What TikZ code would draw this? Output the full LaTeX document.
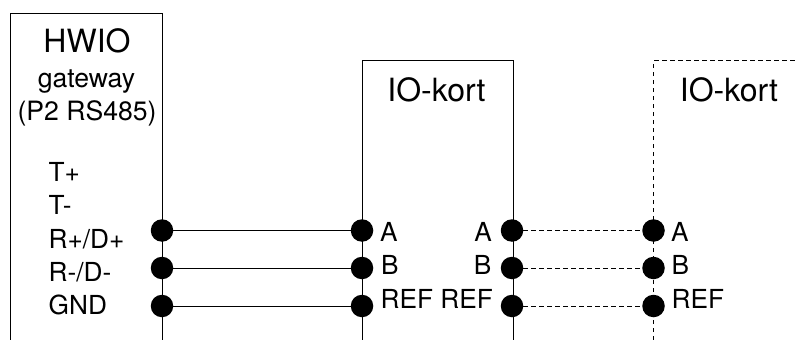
\documentclass[tikz,border=0pt]{standalone}
\usepackage{fontspec}
\setmainfont{TeX Gyre Heros}
\tikzset{
  x=1pt,y=-1pt,
  wire/.style={draw=black,line width=1pt},
  dwire/.style={draw=black,line width=1pt,dash pattern=on 4.5pt off 3.5pt},
  dot/.style={circle,fill=black,draw=none,minimum size=22.5pt,inner sep=0pt},
  big/.style={font=\fontsize{32}{32}\selectfont,inner sep=0pt},
  mid/.style={font=\fontsize{26.6}{26.6}\selectfont,inner sep=0pt},
  lab/.style={font=\fontsize{26.2}{26.2}\selectfont,inner sep=0pt},
}
\begin{document}
\begin{tikzpicture}
\useasboundingbox (0,0) rectangle (798,340);
\coordinate (g1) at (10.5,340); \coordinate (g2) at (10.5,13.5);
\coordinate (g3) at (162,13.5); \coordinate (g4) at (162,340);
\coordinate (i1) at (362,340); \coordinate (i2) at (362,60.5);
\coordinate (i3) at (513,60.5); \coordinate (i4) at (513,340);
\coordinate (d1) at (653.5,340); \coordinate (d2) at (653.5,60.5);
\coordinate (d3) at (798,60.5);
\draw[wire] (g1) -- (g2) -- (g3) -- (g4);
\draw[wire] (i1) -- (i2) -- (i3) -- (i4);
\draw[dwire] (d1) -- (d2) -- (d3);

\node[dot] (ga) at (162,230.5) {};
\node[dot] (gb) at (162,268) {};
\node[dot] (gr) at (162,306) {};
\node[dot] (ia) at (362,230.5) {};
\node[dot] (ib) at (362,268) {};
\node[dot] (ir) at (362,306) {};
\node[dot] (ja) at (512,230.5) {};
\node[dot] (jb) at (512,268) {};
\node[dot] (jr) at (512,306) {};
\node[dot] (da) at (653.5,230.5) {};
\node[dot] (db) at (653.5,268) {};
\node[dot] (dr) at (653.5,306) {};
\draw[wire] (ga) -- (ia);
\draw[wire] (gb) -- (ib);
\draw[wire] (gr) -- (ir);
\draw[dwire] (ja) -- (da);
\draw[dwire] (jb) -- (db);
\draw[dwire] (jr) -- (dr);

\node[big,anchor=base] (t1) at (87,52.5) {HWIO};
\node[mid,anchor=base] (t2) at (86.5,87) {gateway};
\node[mid,anchor=base] (t3) at (87,120.5) {(P2 RS485)};
\node[lab,anchor=base west] (t4) at (48.5,181.5) {T+};
\node[lab,anchor=base west] (t5) at (48.5,214) {T-};
\node[lab,anchor=base west] (t6) at (48.5,248) {R+/D+};
\node[lab,anchor=base west] (t7) at (48.5,281.5) {R-/D-};
\node[lab,anchor=base west] (t8) at (48.5,314.5) {GND};
\node[big,anchor=base] (k1) at (436.5,101) {IO-kort};
\node[big,anchor=base] (k2) at (729,101) {IO-kort};
\node[lab,anchor=base west] (a1) at (380,241) {A};
\node[lab,anchor=base west] (b1) at (381,274.5) {B};
\node[lab,anchor=base west] (r1) at (380.5,308) {REF};
\node[lab,anchor=base east] (a2) at (492,241) {A};
\node[lab,anchor=base east] (b2) at (491.5,274.5) {B};
\node[lab,anchor=base east] (r2) at (493,308) {REF};
\node[lab,anchor=base west] (a3) at (671,241) {A};
\node[lab,anchor=base west] (b3) at (671.5,274.5) {B};
\node[lab,anchor=base west] (r3) at (671.5,308) {REF};
\end{tikzpicture}
\end{document}
